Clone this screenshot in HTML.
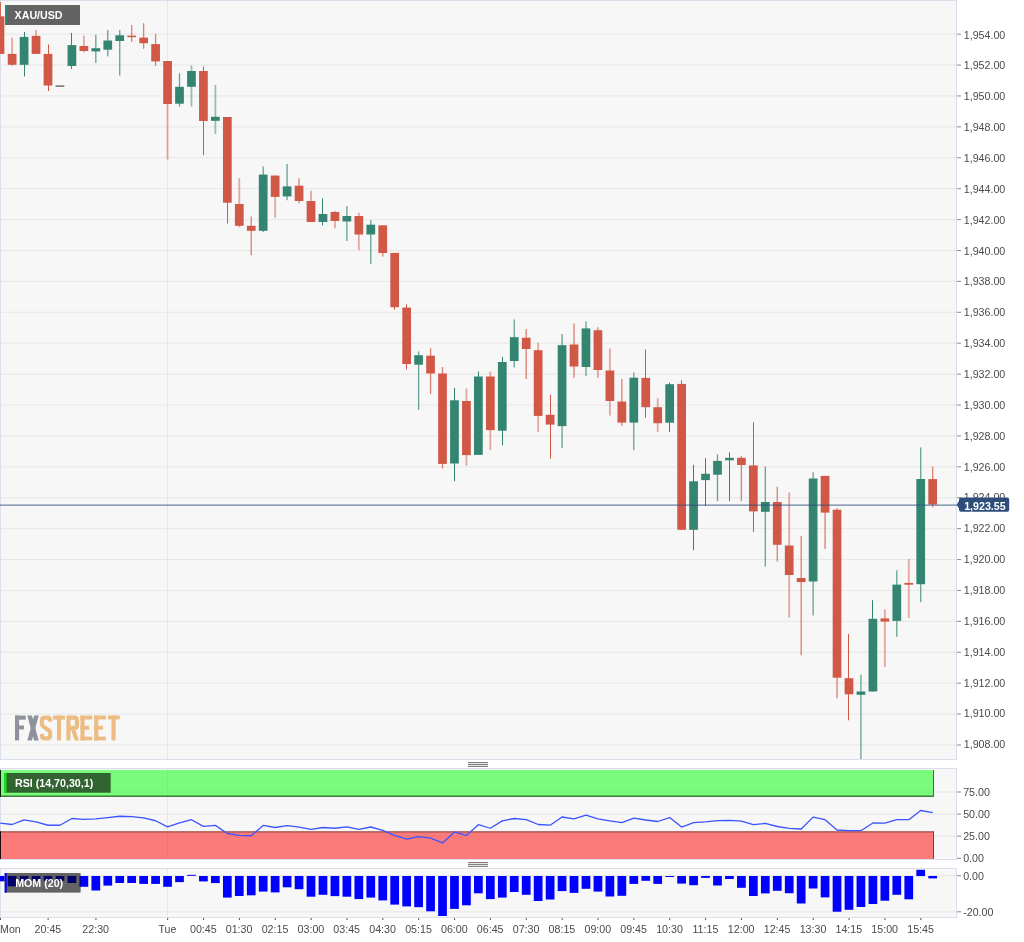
<!DOCTYPE html><html><head><meta charset="utf-8"><title>XAU/USD</title>
<style>html,body{margin:0;padding:0;background:#fff;overflow:hidden}svg{display:block}.t{filter:blur(0.45px)}text{font-family:"Liberation Sans", sans-serif;font-size:10.667px}</style>
</head><body>
<svg width="1024" height="942" viewBox="0 0 1024 942">
<rect width="1024" height="942" fill="#fff"/>
<rect x="0.5" y="0.5" width="956" height="759.0" fill="#f7f7f7" stroke="#d9dfeb" shape-rendering="crispEdges"/>
<rect x="0.5" y="768.5" width="956" height="91.0" fill="#f7f7f7" stroke="#d9dfeb" shape-rendering="crispEdges"/>
<rect x="0.5" y="868.5" width="956" height="49.0" fill="#f7f7f7" stroke="#d9dfeb" shape-rendering="crispEdges"/>
<g fill="#e7e7e7">
<rect x="1" y="33.65" width="955" height="1"/>
<rect x="1" y="64.56" width="955" height="1"/>
<rect x="1" y="95.46" width="955" height="1"/>
<rect x="1" y="126.37" width="955" height="1"/>
<rect x="1" y="157.27" width="955" height="1"/>
<rect x="1" y="188.18" width="955" height="1"/>
<rect x="1" y="219.08" width="955" height="1"/>
<rect x="1" y="249.99" width="955" height="1"/>
<rect x="1" y="280.89" width="955" height="1"/>
<rect x="1" y="311.79" width="955" height="1"/>
<rect x="1" y="342.70" width="955" height="1"/>
<rect x="1" y="373.61" width="955" height="1"/>
<rect x="1" y="404.51" width="955" height="1"/>
<rect x="1" y="435.41" width="955" height="1"/>
<rect x="1" y="466.32" width="955" height="1"/>
<rect x="1" y="497.23" width="955" height="1"/>
<rect x="1" y="528.13" width="955" height="1"/>
<rect x="1" y="559.03" width="955" height="1"/>
<rect x="1" y="589.94" width="955" height="1"/>
<rect x="1" y="620.85" width="955" height="1"/>
<rect x="1" y="651.75" width="955" height="1"/>
<rect x="1" y="682.65" width="955" height="1"/>
<rect x="1" y="713.56" width="955" height="1"/>
<rect x="1" y="744.47" width="955" height="1"/>
<rect x="1" y="791.50" width="955" height="1"/>
<rect x="1" y="813.60" width="955" height="1"/>
<rect x="1" y="835.60" width="955" height="1"/>
<rect x="1" y="875.20" width="955" height="1"/>
<rect x="1" y="911.30" width="955" height="1"/>
<rect x="167" y="1" width="1" height="758"/>
<rect x="167" y="769" width="1" height="90"/>
<rect x="167" y="869" width="1" height="48"/>
</g>
<rect x="0.00" y="2.0" width="0.90" height="51.9" fill="#d15846" opacity="1.00"/>
<rect x="-4.18" y="16.3" width="8.53" height="37.6" fill="#d15846"/>
<rect x="11.24" y="37.6" width="1.80" height="28.2" fill="#d15846" opacity="0.50"/>
<rect x="7.77" y="53.9" width="8.73" height="10.9" fill="#d15846"/>
<rect x="24.00" y="31.9" width="1.00" height="44.5" fill="#338572" opacity="1.00"/>
<rect x="19.73" y="36.9" width="8.73" height="27.9" fill="#338572"/>
<rect x="35.15" y="30.0" width="1.80" height="23.9" fill="#d15846" opacity="0.50"/>
<rect x="31.68" y="35.9" width="8.73" height="18.0" fill="#d15846"/>
<rect x="48.00" y="44.5" width="1.00" height="46.5" fill="#d15846" opacity="1.00"/>
<rect x="43.63" y="53.9" width="8.73" height="31.6" fill="#d15846"/>
<rect x="55.59" y="85.4" width="8.73" height="1.4" fill="#666666"/>
<rect x="71.00" y="32.9" width="1.00" height="36.0" fill="#338572" opacity="1.00"/>
<rect x="67.55" y="45.1" width="8.73" height="20.9" fill="#338572"/>
<rect x="82.96" y="35.7" width="1.80" height="16.7" fill="#d15846" opacity="0.50"/>
<rect x="79.50" y="46.0" width="8.73" height="5.0" fill="#d15846"/>
<rect x="95.17" y="34.8" width="1.30" height="28.2" fill="#338572" opacity="0.75"/>
<rect x="91.45" y="48.2" width="8.73" height="3.2" fill="#338572"/>
<rect x="107.12" y="30.0" width="1.30" height="26.4" fill="#338572" opacity="0.75"/>
<rect x="103.41" y="40.5" width="8.73" height="9.2" fill="#338572"/>
<rect x="119.08" y="30.0" width="1.30" height="45.5" fill="#338572" opacity="0.75"/>
<rect x="115.36" y="35.3" width="8.73" height="5.7" fill="#338572"/>
<rect x="131.03" y="25.0" width="1.30" height="17.0" fill="#d15846" opacity="0.75"/>
<rect x="127.32" y="35.7" width="8.73" height="1.5" fill="#d15846"/>
<rect x="142.99" y="23.2" width="1.30" height="25.6" fill="#d15846" opacity="0.75"/>
<rect x="139.28" y="37.6" width="8.73" height="5.6" fill="#d15846"/>
<rect x="154.94" y="33.8" width="1.30" height="32.0" fill="#d15846" opacity="0.75"/>
<rect x="151.23" y="44.1" width="8.73" height="17.3" fill="#d15846"/>
<rect x="166.65" y="61.0" width="1.80" height="98.5" fill="#d15846" opacity="0.50"/>
<rect x="163.19" y="61.0" width="8.73" height="43.0" fill="#d15846"/>
<rect x="178.85" y="73.3" width="1.30" height="33.2" fill="#338572" opacity="0.75"/>
<rect x="175.14" y="86.8" width="8.73" height="16.9" fill="#338572"/>
<rect x="190.56" y="65.4" width="1.80" height="41.1" fill="#338572" opacity="0.50"/>
<rect x="187.09" y="71.0" width="8.73" height="15.8" fill="#338572"/>
<rect x="203.00" y="66.4" width="1.00" height="88.8" fill="#d15846" opacity="1.00"/>
<rect x="199.05" y="71.0" width="8.73" height="50.0" fill="#d15846"/>
<rect x="214.47" y="85.0" width="1.80" height="48.9" fill="#338572" opacity="0.50"/>
<rect x="211.00" y="116.8" width="8.73" height="4.0" fill="#338572"/>
<rect x="227.00" y="117.0" width="1.00" height="106.5" fill="#d15846" opacity="1.00"/>
<rect x="222.96" y="117.0" width="8.73" height="85.7" fill="#d15846"/>
<rect x="238.38" y="178.2" width="1.80" height="49.1" fill="#d15846" opacity="0.50"/>
<rect x="234.91" y="204.0" width="8.73" height="21.8" fill="#d15846"/>
<rect x="250.59" y="216.5" width="1.30" height="38.8" fill="#d15846" opacity="0.75"/>
<rect x="246.87" y="225.8" width="8.73" height="5.0" fill="#d15846"/>
<rect x="262.54" y="166.4" width="1.30" height="65.6" fill="#338572" opacity="0.75"/>
<rect x="258.82" y="174.6" width="8.73" height="56.2" fill="#338572"/>
<rect x="274.25" y="175.0" width="1.80" height="42.7" fill="#d15846" opacity="0.50"/>
<rect x="270.78" y="175.6" width="8.73" height="21.3" fill="#d15846"/>
<rect x="286.45" y="163.9" width="1.30" height="36.3" fill="#338572" opacity="0.75"/>
<rect x="282.74" y="186.4" width="8.73" height="10.0" fill="#338572"/>
<rect x="298.41" y="178.2" width="1.30" height="25.0" fill="#d15846" opacity="0.75"/>
<rect x="294.69" y="185.7" width="8.73" height="15.3" fill="#d15846"/>
<rect x="310.11" y="190.7" width="1.80" height="31.3" fill="#d15846" opacity="0.50"/>
<rect x="306.64" y="201.0" width="8.73" height="21.0" fill="#d15846"/>
<rect x="322.00" y="198.4" width="1.00" height="26.9" fill="#338572" opacity="1.00"/>
<rect x="318.60" y="214.0" width="8.73" height="8.0" fill="#338572"/>
<rect x="334.02" y="211.0" width="1.80" height="17.3" fill="#d15846" opacity="0.50"/>
<rect x="330.56" y="212.0" width="8.73" height="9.0" fill="#d15846"/>
<rect x="346.23" y="206.0" width="1.30" height="35.0" fill="#338572" opacity="0.75"/>
<rect x="342.51" y="216.0" width="8.73" height="5.5" fill="#338572"/>
<rect x="357.93" y="212.7" width="1.80" height="37.6" fill="#d15846" opacity="0.50"/>
<rect x="354.46" y="216.0" width="8.73" height="18.5" fill="#d15846"/>
<rect x="370.14" y="220.2" width="1.30" height="43.8" fill="#338572" opacity="0.75"/>
<rect x="366.42" y="224.7" width="8.73" height="9.8" fill="#338572"/>
<rect x="382.09" y="225.3" width="1.30" height="31.3" fill="#d15846" opacity="0.75"/>
<rect x="378.38" y="225.3" width="8.73" height="27.7" fill="#d15846"/>
<rect x="394.00" y="252.9" width="1.00" height="56.9" fill="#d15846" opacity="1.00"/>
<rect x="390.33" y="252.9" width="8.73" height="54.3" fill="#d15846"/>
<rect x="406.00" y="304.4" width="1.00" height="65.1" fill="#d15846" opacity="1.00"/>
<rect x="402.29" y="307.6" width="8.73" height="56.4" fill="#d15846"/>
<rect x="417.96" y="351.5" width="1.30" height="58.3" fill="#338572" opacity="0.75"/>
<rect x="414.24" y="355.2" width="8.73" height="9.5" fill="#338572"/>
<rect x="429.91" y="348.2" width="1.30" height="45.8" fill="#d15846" opacity="0.75"/>
<rect x="426.19" y="355.7" width="8.73" height="17.8" fill="#d15846"/>
<rect x="441.87" y="367.0" width="1.30" height="101.6" fill="#d15846" opacity="0.75"/>
<rect x="438.15" y="373.5" width="8.73" height="90.4" fill="#d15846"/>
<rect x="454.00" y="387.8" width="1.00" height="93.4" fill="#338572" opacity="1.00"/>
<rect x="450.11" y="400.3" width="8.73" height="63.2" fill="#338572"/>
<rect x="465.53" y="388.5" width="1.80" height="77.0" fill="#d15846" opacity="0.50"/>
<rect x="462.06" y="401.0" width="8.73" height="54.1" fill="#d15846"/>
<rect x="478.00" y="371.5" width="1.00" height="83.4" fill="#338572" opacity="1.00"/>
<rect x="474.01" y="376.5" width="8.73" height="78.4" fill="#338572"/>
<rect x="489.44" y="371.5" width="1.80" height="78.6" fill="#d15846" opacity="0.50"/>
<rect x="485.97" y="376.5" width="8.73" height="53.6" fill="#d15846"/>
<rect x="502.00" y="357.0" width="1.00" height="88.3" fill="#338572" opacity="1.00"/>
<rect x="497.93" y="362.0" width="8.73" height="68.7" fill="#338572"/>
<rect x="513.60" y="319.4" width="1.30" height="47.9" fill="#338572" opacity="0.75"/>
<rect x="509.88" y="337.2" width="8.73" height="23.8" fill="#338572"/>
<rect x="525.55" y="329.0" width="1.30" height="50.0" fill="#d15846" opacity="0.75"/>
<rect x="521.84" y="337.7" width="8.73" height="11.3" fill="#d15846"/>
<rect x="537.26" y="342.7" width="1.80" height="89.2" fill="#d15846" opacity="0.50"/>
<rect x="533.79" y="350.2" width="8.73" height="65.7" fill="#d15846"/>
<rect x="550.00" y="394.8" width="1.00" height="63.9" fill="#d15846" opacity="1.00"/>
<rect x="545.75" y="414.8" width="8.73" height="9.8" fill="#d15846"/>
<rect x="561.42" y="334.0" width="1.30" height="114.0" fill="#338572" opacity="0.75"/>
<rect x="557.70" y="345.2" width="8.73" height="80.9" fill="#338572"/>
<rect x="573.37" y="323.4" width="1.30" height="54.4" fill="#d15846" opacity="0.75"/>
<rect x="569.66" y="344.5" width="8.73" height="22.0" fill="#d15846"/>
<rect x="585.33" y="321.4" width="1.30" height="54.6" fill="#338572" opacity="0.75"/>
<rect x="581.61" y="328.4" width="8.73" height="38.6" fill="#338572"/>
<rect x="597.28" y="327.2" width="1.30" height="50.6" fill="#d15846" opacity="0.75"/>
<rect x="593.57" y="330.2" width="8.73" height="39.8" fill="#d15846"/>
<rect x="608.99" y="348.4" width="1.80" height="67.2" fill="#d15846" opacity="0.50"/>
<rect x="605.52" y="370.5" width="8.73" height="30.5" fill="#d15846"/>
<rect x="621.19" y="379.0" width="1.30" height="47.0" fill="#d15846" opacity="0.75"/>
<rect x="617.48" y="401.5" width="8.73" height="21.1" fill="#d15846"/>
<rect x="633.15" y="372.5" width="1.30" height="77.7" fill="#338572" opacity="0.75"/>
<rect x="629.43" y="377.7" width="8.73" height="44.9" fill="#338572"/>
<rect x="645.00" y="349.3" width="1.00" height="68.4" fill="#d15846" opacity="1.00"/>
<rect x="641.39" y="377.9" width="8.73" height="29.3" fill="#d15846"/>
<rect x="656.81" y="398.4" width="1.80" height="33.6" fill="#d15846" opacity="0.50"/>
<rect x="653.34" y="407.2" width="8.73" height="16.0" fill="#d15846"/>
<rect x="669.00" y="382.7" width="1.00" height="49.3" fill="#338572" opacity="1.00"/>
<rect x="665.30" y="384.2" width="8.73" height="38.5" fill="#338572"/>
<rect x="681.00" y="380.2" width="1.00" height="149.6" fill="#d15846" opacity="1.00"/>
<rect x="677.25" y="383.9" width="8.73" height="145.9" fill="#d15846"/>
<rect x="693.00" y="464.8" width="1.00" height="85.4" fill="#338572" opacity="1.00"/>
<rect x="689.21" y="481.3" width="8.73" height="48.5" fill="#338572"/>
<rect x="705.00" y="458.1" width="1.00" height="48.0" fill="#338572" opacity="1.00"/>
<rect x="701.16" y="473.8" width="8.73" height="6.3" fill="#338572"/>
<rect x="716.83" y="454.4" width="1.30" height="46.7" fill="#338572" opacity="0.75"/>
<rect x="713.12" y="460.9" width="8.73" height="13.8" fill="#338572"/>
<rect x="729.00" y="452.3" width="1.00" height="48.8" fill="#338572" opacity="1.00"/>
<rect x="725.07" y="457.8" width="8.73" height="2.5" fill="#338572"/>
<rect x="740.74" y="456.0" width="1.30" height="45.1" fill="#d15846" opacity="0.75"/>
<rect x="737.03" y="457.8" width="8.73" height="7.2" fill="#d15846"/>
<rect x="753.00" y="422.1" width="1.00" height="109.9" fill="#d15846" opacity="1.00"/>
<rect x="748.98" y="465.4" width="8.73" height="46.0" fill="#d15846"/>
<rect x="764.65" y="466.5" width="1.30" height="100.0" fill="#338572" opacity="0.75"/>
<rect x="760.94" y="502.0" width="8.73" height="9.8" fill="#338572"/>
<rect x="776.61" y="486.7" width="1.30" height="74.8" fill="#d15846" opacity="0.75"/>
<rect x="772.89" y="502.0" width="8.73" height="42.8" fill="#d15846"/>
<rect x="788.31" y="492.5" width="1.80" height="125.0" fill="#d15846" opacity="0.50"/>
<rect x="784.85" y="545.5" width="8.73" height="29.5" fill="#d15846"/>
<rect x="800.52" y="535.8" width="1.30" height="119.4" fill="#d15846" opacity="0.75"/>
<rect x="796.80" y="578.0" width="8.73" height="4.1" fill="#d15846"/>
<rect x="812.47" y="472.3" width="1.30" height="143.2" fill="#338572" opacity="0.75"/>
<rect x="808.76" y="478.5" width="8.73" height="103.0" fill="#338572"/>
<rect x="824.43" y="475.9" width="1.30" height="73.1" fill="#d15846" opacity="0.75"/>
<rect x="820.71" y="475.9" width="8.73" height="36.7" fill="#d15846"/>
<rect x="836.38" y="508.1" width="1.30" height="190.2" fill="#d15846" opacity="0.75"/>
<rect x="832.67" y="509.7" width="8.73" height="168.0" fill="#d15846"/>
<rect x="848.00" y="633.8" width="1.00" height="86.5" fill="#d15846" opacity="1.00"/>
<rect x="844.62" y="678.2" width="8.73" height="16.1" fill="#d15846"/>
<rect x="860.29" y="674.7" width="1.30" height="84.3" fill="#338572" opacity="0.75"/>
<rect x="856.58" y="691.5" width="8.73" height="3.3" fill="#338572"/>
<rect x="872.00" y="600.2" width="1.00" height="91.3" fill="#338572" opacity="1.00"/>
<rect x="868.53" y="618.8" width="8.73" height="72.7" fill="#338572"/>
<rect x="883.95" y="609.4" width="1.80" height="57.6" fill="#d15846" opacity="0.50"/>
<rect x="880.49" y="618.4" width="8.73" height="3.2" fill="#d15846"/>
<rect x="896.16" y="570.3" width="1.30" height="66.5" fill="#338572" opacity="0.75"/>
<rect x="892.44" y="584.6" width="8.73" height="36.3" fill="#338572"/>
<rect x="907.86" y="559.0" width="1.80" height="59.0" fill="#d15846" opacity="0.50"/>
<rect x="904.40" y="582.9" width="8.73" height="1.8" fill="#d15846"/>
<rect x="920.07" y="447.4" width="1.30" height="154.7" fill="#338572" opacity="0.75"/>
<rect x="916.35" y="479.0" width="8.73" height="105.2" fill="#338572"/>
<rect x="932.02" y="466.6" width="1.30" height="40.8" fill="#d15846" opacity="0.75"/>
<rect x="928.31" y="479.1" width="8.73" height="25.4" fill="#d15846"/>
<rect x="0" y="504.6" width="957" height="1" fill="rgba(46,77,122,0.85)"/>
<rect x="5.0" y="5.0" width="75.0" height="20.0" fill="rgba(0,0,0,0.6)"/>
<rect x="5.0" y="5.0" width="2" height="20.0" fill="#338572"/>
<text class="t" x="14.6" y="19.3" fill="#fff" font-weight="bold">XAU/USD</text>
<g id="logo"><g fill="#8f929c"><rect x="15" y="715.6" width="4.1" height="24.8"/><rect x="15" y="715.6" width="10.8" height="4.1"/><rect x="15" y="725.5" width="9" height="3.9"/><polygon points="27.3,715.6 31.9,715.6 38.7,740.4 34.1,740.4"/><polygon points="34.2,715.6 38.7,715.6 31.9,740.4 27.3,740.4"/></g><g fill="#ecbc82"><path d="M50.15 721.7V720.3Q50.15 717.65 47.5 717.65H44.6Q41.95 717.65 41.95 720.3V723.8Q41.95 725.6 43.4 726.6L48.7 730.2Q50.15 731.2 50.15 733V735.7Q50.15 738.35 47.5 738.35H44.6Q41.95 738.35 41.95 735.7V734" fill="none" stroke="#ecbc82" stroke-width="4.1"/><rect x="53" y="715.6" width="12" height="4"/><rect x="56.95" y="715.6" width="4.1" height="24.8"/><rect x="66.4" y="715.6" width="4.1" height="24.8"/><path d="M68.45 717.65H74.5Q76.95 717.65 76.95 720.1V725.4Q76.95 727.9 74.5 727.9H68.45" fill="none" stroke="#ecbc82" stroke-width="4.1"/><polygon points="70.8,729.5 75.2,729.5 79,740.4 74.8,740.4"/><rect x="80.45" y="715.6" width="4.1" height="24.8"/><rect x="80.45" y="715.6" width="11.75" height="3.9"/><rect x="80.45" y="725.8" width="8.75" height="3.8"/><rect x="80.45" y="736.6" width="11.75" height="3.8"/><rect x="94.2" y="715.6" width="4.1" height="24.8"/><rect x="94.2" y="715.6" width="11.7" height="3.9"/><rect x="94.2" y="725.8" width="8.8" height="3.8"/><rect x="94.2" y="736.6" width="11.7" height="3.8"/><rect x="108" y="715.6" width="11.7" height="3.8"/><rect x="111.5" y="715.6" width="4.1" height="24.8"/></g></g>
<g fill="#8c8c8c">
<rect x="957" y="33.65" width="4" height="1"/>
<rect x="957" y="64.56" width="4" height="1"/>
<rect x="957" y="95.46" width="4" height="1"/>
<rect x="957" y="126.37" width="4" height="1"/>
<rect x="957" y="157.27" width="4" height="1"/>
<rect x="957" y="188.18" width="4" height="1"/>
<rect x="957" y="219.08" width="4" height="1"/>
<rect x="957" y="249.99" width="4" height="1"/>
<rect x="957" y="280.89" width="4" height="1"/>
<rect x="957" y="311.79" width="4" height="1"/>
<rect x="957" y="342.70" width="4" height="1"/>
<rect x="957" y="373.61" width="4" height="1"/>
<rect x="957" y="404.51" width="4" height="1"/>
<rect x="957" y="435.41" width="4" height="1"/>
<rect x="957" y="466.32" width="4" height="1"/>
<rect x="957" y="497.23" width="4" height="1"/>
<rect x="957" y="528.13" width="4" height="1"/>
<rect x="957" y="559.03" width="4" height="1"/>
<rect x="957" y="589.94" width="4" height="1"/>
<rect x="957" y="620.85" width="4" height="1"/>
<rect x="957" y="651.75" width="4" height="1"/>
<rect x="957" y="682.65" width="4" height="1"/>
<rect x="957" y="713.56" width="4" height="1"/>
<rect x="957" y="744.47" width="4" height="1"/>
<rect x="957" y="791.50" width="4" height="1"/>
<rect x="957" y="813.60" width="4" height="1"/>
<rect x="957" y="835.60" width="4" height="1"/>
<rect x="957" y="857.80" width="4" height="1"/>
<rect x="957" y="875.20" width="4" height="1"/>
<rect x="957" y="911.30" width="4" height="1"/>
</g>
<g class="t" fill="#4a4a4a" style="font-size:10.3px">
<text x="963.8" y="38.50">1,954.00</text>
<text x="963.8" y="69.36">1,952.00</text>
<text x="963.8" y="100.23">1,950.00</text>
<text x="963.8" y="131.09">1,948.00</text>
<text x="963.8" y="161.95">1,946.00</text>
<text x="963.8" y="192.81">1,944.00</text>
<text x="963.8" y="223.68">1,942.00</text>
<text x="963.8" y="254.54">1,940.00</text>
<text x="963.8" y="285.40">1,938.00</text>
<text x="963.8" y="316.27">1,936.00</text>
<text x="963.8" y="347.13">1,934.00</text>
<text x="963.8" y="377.99">1,932.00</text>
<text x="963.8" y="408.86">1,930.00</text>
<text x="963.8" y="439.72">1,928.00</text>
<text x="963.8" y="470.58">1,926.00</text>
<text x="963.8" y="501.44">1,924.00</text>
<text x="963.8" y="532.31">1,922.00</text>
<text x="963.8" y="563.17">1,920.00</text>
<text x="963.8" y="594.03">1,918.00</text>
<text x="963.8" y="624.90">1,916.00</text>
<text x="963.8" y="655.76">1,914.00</text>
<text x="963.8" y="686.62">1,912.00</text>
<text x="963.8" y="717.49">1,910.00</text>
<text x="963.8" y="748.35">1,908.00</text>
<text x="963.2" y="796.05">75.00</text>
<text x="963.2" y="818.10">50.00</text>
<text x="963.2" y="840.10">25.00</text>
<text x="963.2" y="862.35">0.00</text>
<text x="963.2" y="879.70">0.00</text>
<text x="963.2" y="916.05">-20.00</text>
</g>
<path d="M956.8 504.8 L959 500.8 L959 499.4 Q959 497.5 961 497.5 L1007.2 497.5 Q1009.2 497.5 1009.2 499.5 L1009.2 509.8 Q1009.2 511.8 1007.2 511.8 L961 511.8 Q959 511.8 959 509.8 L959 508.8 Z" fill="#2e4d7b"/>
<text class="t" x="964.2" y="509.5" fill="#fff" font-weight="bold" style="font-size:10.667px">1,923.55</text>
<rect x="468" y="762" width="20" height="5" fill="#e4e4e4"/>
<rect x="468" y="762" width="20" height="1" fill="#86817f"/>
<rect x="468" y="764" width="20" height="1" fill="#86817f"/>
<rect x="468" y="766" width="20" height="1" fill="#86817f"/>
<rect x="468" y="862" width="20" height="5" fill="#e4e4e4"/>
<rect x="468" y="862" width="20" height="1" fill="#86817f"/>
<rect x="468" y="864" width="20" height="1" fill="#86817f"/>
<rect x="468" y="866" width="20" height="1" fill="#86817f"/>
<rect x="0" y="770" width="934" height="26.5" fill="rgba(0,255,0,0.5)"/>
<rect x="0" y="795.6" width="934" height="1.15" fill="#1d551d"/>
<rect x="933" y="770" width="1" height="26.7" fill="#2f7a2f"/>
<rect x="0" y="770" width="1" height="26.7" fill="#0a1f0a"/>
<rect x="0" y="831.5" width="934" height="27.5" fill="rgba(255,0,0,0.5)"/>
<rect x="0" y="831.4" width="934" height="1" fill="#8a4040"/>
<rect x="933" y="831.4" width="1" height="27.6" fill="#7a3b3b"/>
<rect x="0" y="831.4" width="1" height="27.6" fill="#1f0a0a"/>
<polyline points="0.2,823.20 12.1,824.50 24.1,819.80 36.0,821.90 48.0,825.25 60.0,825.25 71.9,818.50 83.9,819.40 95.8,818.90 107.8,817.60 119.7,816.25 131.7,816.60 143.6,817.90 155.6,820.75 167.6,826.90 179.5,822.80 191.5,819.70 203.4,826.40 215.4,825.40 227.3,833.50 239.3,835.40 251.2,835.75 263.2,825.40 275.1,827.50 287.1,825.60 299.1,827.10 311.0,829.40 323.0,827.50 334.9,828.25 346.9,826.90 358.8,829.40 370.8,827.00 382.7,830.30 394.7,835.40 406.7,839.10 418.6,836.70 430.6,838.20 442.5,842.90 454.5,832.00 466.4,835.40 478.4,824.70 490.3,828.25 502.3,820.90 514.2,818.50 526.2,819.60 538.2,824.50 550.1,825.20 562.1,817.00 574.0,818.90 586.0,815.10 597.9,818.90 609.9,820.90 621.8,822.60 633.8,818.10 645.8,820.00 657.7,821.50 669.7,817.60 681.6,827.10 693.6,822.60 705.5,821.90 717.5,820.60 729.4,820.30 741.4,821.10 753.3,824.60 765.3,823.40 777.3,826.50 789.2,828.30 801.2,829.00 813.1,817.10 825.1,819.70 837.0,830.00 849.0,830.70 860.9,830.70 872.9,823.00 884.9,823.20 896.8,819.70 908.8,819.70 920.7,810.50 932.7,812.60" fill="none" stroke="#3a55ff" stroke-width="1.3" stroke-linejoin="round"/>
<rect x="4.5" y="773.0" width="106.2" height="19.7" fill="rgba(0,0,0,0.6)"/>
<rect x="4.5" y="773.0" width="2" height="19.7" fill="#00f400"/>
<text class="t" x="15.0" y="787.3" fill="#fff" font-weight="bold">RSI (14,70,30,1)</text>
<g fill="#0000ff">
<rect x="-4.18" y="876" width="8.73" height="5.3"/>
<rect x="7.77" y="876" width="8.73" height="10.3"/>
<rect x="19.73" y="876" width="8.73" height="4.8"/>
<rect x="31.68" y="876" width="8.73" height="4.8"/>
<rect x="43.63" y="876" width="8.73" height="4.8"/>
<rect x="55.59" y="876" width="8.73" height="4.8"/>
<rect x="67.55" y="876" width="8.73" height="7.0"/>
<rect x="79.50" y="876" width="8.73" height="10.8"/>
<rect x="91.45" y="876" width="8.73" height="14.5"/>
<rect x="103.41" y="876" width="8.73" height="9.6"/>
<rect x="115.36" y="876" width="8.73" height="7.0"/>
<rect x="127.32" y="876" width="8.73" height="7.0"/>
<rect x="139.28" y="876" width="8.73" height="7.9"/>
<rect x="151.23" y="876" width="8.73" height="7.9"/>
<rect x="163.19" y="876" width="8.73" height="10.8"/>
<rect x="175.14" y="876" width="8.73" height="6.1"/>
<rect x="187.09" y="874.8" width="8.73" height="1"/>
<rect x="199.05" y="876" width="8.73" height="5.4"/>
<rect x="211.00" y="876" width="8.73" height="7.1"/>
<rect x="222.96" y="876" width="8.73" height="21.6"/>
<rect x="234.91" y="876" width="8.73" height="20.0"/>
<rect x="246.87" y="876" width="8.73" height="19.3"/>
<rect x="258.82" y="876" width="8.73" height="15.6"/>
<rect x="270.78" y="876" width="8.73" height="16.4"/>
<rect x="282.74" y="876" width="8.73" height="11.3"/>
<rect x="294.69" y="876" width="8.73" height="13.2"/>
<rect x="306.64" y="876" width="8.73" height="20.7"/>
<rect x="318.60" y="876" width="8.73" height="18.8"/>
<rect x="330.56" y="876" width="8.73" height="20.1"/>
<rect x="342.51" y="876" width="8.73" height="20.7"/>
<rect x="354.46" y="876" width="8.73" height="23.1"/>
<rect x="366.42" y="876" width="8.73" height="21.6"/>
<rect x="378.38" y="876" width="8.73" height="24.4"/>
<rect x="390.33" y="876" width="8.73" height="28.6"/>
<rect x="402.29" y="876" width="8.73" height="30.4"/>
<rect x="414.24" y="876" width="8.73" height="31.2"/>
<rect x="426.19" y="876" width="8.73" height="35.3"/>
<rect x="438.15" y="876" width="8.73" height="40.0"/>
<rect x="450.11" y="876" width="8.73" height="32.9"/>
<rect x="462.06" y="876" width="8.73" height="29.3"/>
<rect x="474.01" y="876" width="8.73" height="17.3"/>
<rect x="485.97" y="876" width="8.73" height="23.1"/>
<rect x="497.93" y="876" width="8.73" height="21.6"/>
<rect x="509.88" y="876" width="8.73" height="16.0"/>
<rect x="521.84" y="876" width="8.73" height="18.8"/>
<rect x="533.79" y="876" width="8.73" height="25.0"/>
<rect x="545.75" y="876" width="8.73" height="23.5"/>
<rect x="557.70" y="876" width="8.73" height="15.1"/>
<rect x="569.66" y="876" width="8.73" height="16.9"/>
<rect x="581.61" y="876" width="8.73" height="12.8"/>
<rect x="593.57" y="876" width="8.73" height="15.6"/>
<rect x="605.52" y="876" width="8.73" height="20.5"/>
<rect x="617.48" y="876" width="8.73" height="19.8"/>
<rect x="629.43" y="876" width="8.73" height="7.9"/>
<rect x="641.39" y="876" width="8.73" height="4.8"/>
<rect x="653.34" y="876" width="8.73" height="7.9"/>
<rect x="665.30" y="876" width="8.73" height="1.0"/>
<rect x="677.25" y="876" width="8.73" height="7.6"/>
<rect x="689.21" y="876" width="8.73" height="9.2"/>
<rect x="701.16" y="876" width="8.73" height="1.9"/>
<rect x="713.12" y="876" width="8.73" height="9.5"/>
<rect x="725.07" y="876" width="8.73" height="3.0"/>
<rect x="737.03" y="876" width="8.73" height="11.8"/>
<rect x="748.98" y="876" width="8.73" height="20.0"/>
<rect x="760.94" y="876" width="8.73" height="17.4"/>
<rect x="772.89" y="876" width="8.73" height="14.8"/>
<rect x="784.85" y="876" width="8.73" height="17.2"/>
<rect x="796.80" y="876" width="8.73" height="27.5"/>
<rect x="808.76" y="876" width="8.73" height="12.5"/>
<rect x="820.71" y="876" width="8.73" height="21.4"/>
<rect x="832.67" y="876" width="8.73" height="35.7"/>
<rect x="844.62" y="876" width="8.73" height="33.8"/>
<rect x="856.58" y="876" width="8.73" height="31.0"/>
<rect x="868.53" y="876" width="8.73" height="28.0"/>
<rect x="880.49" y="876" width="8.73" height="24.7"/>
<rect x="892.44" y="876" width="8.73" height="18.8"/>
<rect x="904.40" y="876" width="8.73" height="23.3"/>
<rect x="916.35" y="869.8" width="8.73" height="6.3"/>
<rect x="928.31" y="876" width="8.73" height="2.4"/>
</g>
<rect x="4.7" y="873.0" width="75.9" height="19.6" fill="rgba(0,0,0,0.6)"/>
<rect x="4.7" y="873.0" width="2" height="19.6" fill="#0000ff"/>
<text class="t" x="15.2" y="887.3" fill="#fff" font-weight="bold">MOM (20)</text>
<g fill="#555">
<rect x="0.00" y="918" width="1" height="2"/>
<rect x="47.60" y="918" width="1" height="2"/>
<rect x="95.42" y="918" width="1" height="2"/>
<rect x="167.15" y="918" width="1" height="2"/>
<rect x="203.02" y="918" width="1" height="2"/>
<rect x="238.88" y="918" width="1" height="2"/>
<rect x="274.75" y="918" width="1" height="2"/>
<rect x="310.61" y="918" width="1" height="2"/>
<rect x="346.48" y="918" width="1" height="2"/>
<rect x="382.34" y="918" width="1" height="2"/>
<rect x="418.21" y="918" width="1" height="2"/>
<rect x="454.07" y="918" width="1" height="2"/>
<rect x="489.94" y="918" width="1" height="2"/>
<rect x="525.80" y="918" width="1" height="2"/>
<rect x="561.67" y="918" width="1" height="2"/>
<rect x="597.53" y="918" width="1" height="2"/>
<rect x="633.40" y="918" width="1" height="2"/>
<rect x="669.26" y="918" width="1" height="2"/>
<rect x="705.13" y="918" width="1" height="2"/>
<rect x="740.99" y="918" width="1" height="2"/>
<rect x="776.86" y="918" width="1" height="2"/>
<rect x="812.72" y="918" width="1" height="2"/>
<rect x="848.59" y="918" width="1" height="2"/>
<rect x="884.45" y="918" width="1" height="2"/>
<rect x="920.32" y="918" width="1" height="2"/>
</g>
<g class="t" fill="#4a4a4a">
<text x="0" y="933.25">Mon</text>
<text x="47.9" y="933.25" text-anchor="middle">20:45</text>
<text x="95.7" y="933.25" text-anchor="middle">22:30</text>
<text x="167.4" y="933.25" text-anchor="middle">Tue</text>
<text x="203.3" y="933.25" text-anchor="middle">00:45</text>
<text x="239.1" y="933.25" text-anchor="middle">01:30</text>
<text x="275.0" y="933.25" text-anchor="middle">02:15</text>
<text x="310.9" y="933.25" text-anchor="middle">03:00</text>
<text x="346.7" y="933.25" text-anchor="middle">03:45</text>
<text x="382.6" y="933.25" text-anchor="middle">04:30</text>
<text x="418.5" y="933.25" text-anchor="middle">05:15</text>
<text x="454.3" y="933.25" text-anchor="middle">06:00</text>
<text x="490.2" y="933.25" text-anchor="middle">06:45</text>
<text x="526.1" y="933.25" text-anchor="middle">07:30</text>
<text x="561.9" y="933.25" text-anchor="middle">08:15</text>
<text x="597.8" y="933.25" text-anchor="middle">09:00</text>
<text x="633.6" y="933.25" text-anchor="middle">09:45</text>
<text x="669.5" y="933.25" text-anchor="middle">10:30</text>
<text x="705.4" y="933.25" text-anchor="middle">11:15</text>
<text x="741.2" y="933.25" text-anchor="middle">12:00</text>
<text x="777.1" y="933.25" text-anchor="middle">12:45</text>
<text x="813.0" y="933.25" text-anchor="middle">13:30</text>
<text x="848.8" y="933.25" text-anchor="middle">14:15</text>
<text x="884.7" y="933.25" text-anchor="middle">15:00</text>
<text x="920.6" y="933.25" text-anchor="middle">15:45</text>
</g>
</svg></body></html>
